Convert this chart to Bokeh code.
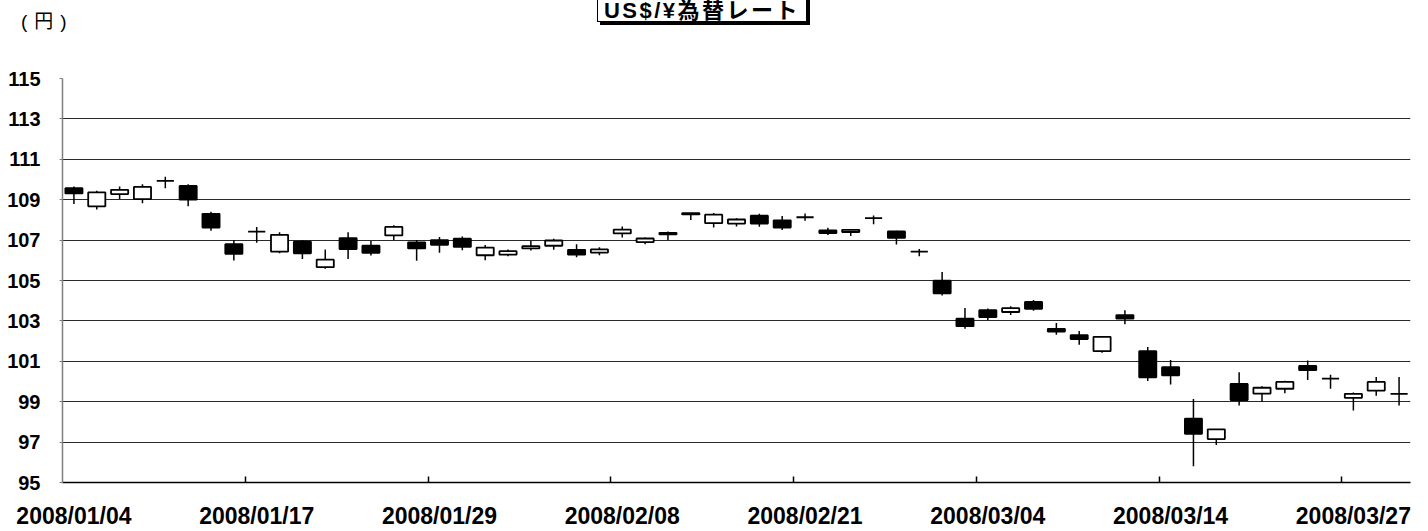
from bokeh.plotting import figure
from bokeh.models import Range1d, FixedTicker, ColumnDataSource, Div
from bokeh.layouts import column
from bokeh.embed import file_html
from bokeh.resources import INLINE

dates = [
    "2008/01/04", "2008/01/07", "2008/01/08", "2008/01/09", "2008/01/10", "2008/01/11",
    "2008/01/15", "2008/01/16", "2008/01/17", "2008/01/18", "2008/01/21", "2008/01/22",
    "2008/01/23", "2008/01/24", "2008/01/25", "2008/01/28", "2008/01/29", "2008/01/30",
    "2008/01/31", "2008/02/01", "2008/02/04", "2008/02/05", "2008/02/06", "2008/02/07",
    "2008/02/08", "2008/02/12", "2008/02/13", "2008/02/14", "2008/02/15", "2008/02/18",
    "2008/02/19", "2008/02/20", "2008/02/21", "2008/02/22", "2008/02/25", "2008/02/26",
    "2008/02/27", "2008/02/28", "2008/02/29", "2008/03/03", "2008/03/04", "2008/03/05",
    "2008/03/06", "2008/03/07", "2008/03/10", "2008/03/11", "2008/03/12", "2008/03/13",
    "2008/03/14", "2008/03/17", "2008/03/18", "2008/03/19", "2008/03/21", "2008/03/24",
    "2008/03/25", "2008/03/26", "2008/03/27", "2008/03/28", "2008/03/31",
]

opens = [
    109.57, 108.67, 109.28, 109.03, 109.93, 109.68, 108.30, 106.80, 107.42, 106.43,
    106.92, 105.66, 107.10, 106.72, 107.23, 106.89, 107.00, 107.07, 106.25, 106.28,
    106.59, 106.72, 106.52, 106.38, 107.33, 106.90, 107.36, 108.34, 107.84, 107.82,
    108.21, 107.98, 108.13, 107.48, 107.40, 108.09, 107.43, 106.43, 104.99, 103.11,
    103.53, 103.44, 103.94, 102.61, 102.29, 101.50, 103.29, 101.50, 100.71, 98.16,
    97.15, 99.88, 99.40, 99.64, 100.77, 100.14, 99.19, 99.55, 99.39,
]
highs = [
    109.65, 109.44, 109.65, 109.76, 110.14, 109.76, 108.40, 107.00, 107.65, 107.39,
    107.00, 106.53, 107.39, 106.95, 107.73, 107.00, 107.15, 107.18, 106.76, 106.53,
    106.97, 107.07, 106.80, 106.64, 107.67, 107.13, 107.43, 108.34, 108.34, 108.08,
    108.30, 108.19, 108.32, 107.61, 107.51, 108.22, 107.46, 106.56, 105.42, 103.64,
    103.61, 103.73, 104.03, 102.89, 102.50, 102.21, 103.53, 101.71, 101.06, 99.13,
    97.63, 100.46, 99.76, 100.04, 101.04, 100.33, 99.45, 100.22, 100.22,
]
lows = [
    108.79, 108.51, 109.03, 108.82, 109.57, 108.67, 107.46, 105.99, 106.87, 106.35,
    106.06, 105.58, 106.06, 106.24, 107.00, 105.98, 106.37, 106.50, 106.00, 106.20,
    106.48, 106.52, 106.15, 106.25, 107.13, 106.80, 107.00, 108.00, 107.62, 107.67,
    107.66, 107.50, 107.96, 107.25, 107.20, 107.79, 106.78, 106.20, 104.26, 102.61,
    103.05, 103.29, 103.50, 102.31, 101.82, 101.42, 102.84, 100.02, 99.85, 95.80,
    96.86, 98.81, 99.00, 99.42, 100.08, 99.64, 98.57, 99.29, 98.81,
]
closes = [
    109.31, 109.36, 109.49, 109.63, 109.93, 109.00, 107.62, 106.32, 107.42, 107.26,
    106.35, 106.03, 106.56, 106.37, 107.65, 106.59, 106.77, 106.66, 106.63, 106.45,
    106.70, 106.98, 106.28, 106.54, 107.52, 107.08, 107.28, 108.28, 108.26, 108.02,
    107.82, 107.62, 108.13, 107.35, 107.51, 108.09, 107.11, 106.43, 104.37, 102.74,
    103.19, 103.63, 103.60, 102.47, 102.10, 102.21, 103.11, 100.21, 100.31, 97.41,
    97.63, 99.08, 99.69, 99.98, 100.56, 100.14, 99.39, 99.98, 99.39,
]

y_ticks = list(range(95, 116, 2))
label_every = 8
title_text = "US$/¥為替レート"
unit_text = "(円)"

W = 1428
HEADER_H = 66

# ---------------- header: title box with shadow, unit ----------------
header_html = f"""
<div style="position:relative;width:{W}px;height:{HEADER_H}px;overflow:hidden;margin:0;padding:0;">
  <div style="position:absolute;left:21px;top:12px;font-family:'Liberation Sans','Noto Sans CJK JP',sans-serif;
       font-size:19px;line-height:20px;letter-spacing:7px;color:black;white-space:nowrap;">{unit_text}</div>
  <div style="position:absolute;left:597px;top:-10px;width:210px;height:32px;box-sizing:border-box;
       border:1.5px solid black;background:white;box-shadow:3px 3px 0 0 black;"></div>
  <div style="position:absolute;left:597px;top:0px;width:210px;text-align:center;
       font-family:'Liberation Sans','Noto Sans CJK JP',sans-serif;font-weight:bold;font-size:22px;
       line-height:22px;letter-spacing:2.5px;color:black;white-space:nowrap;">{title_text}</div>
</div>
"""
header = Div(text=header_html, width=W, height=HEADER_H, margin=(0, 0, 0, 0))

# ---------------- main chart ----------------
idx = list(range(len(dates)))
tops = [max(o, c) for o, c in zip(opens, closes)]
bottoms = [min(o, c) for o, c in zip(opens, closes)]
fills = ["black" if c < o else "white" for o, c in zip(opens, closes)]
src = ColumnDataSource(dict(x=idx, high=highs, low=lows, top=tops, bottom=bottoms, fill=fills))

p = figure(
    width=W, height=531 - HEADER_H,
    x_range=Range1d(-0.5, len(dates) - 0.5),
    y_range=Range1d(y_ticks[0], y_ticks[-1]),
    output_backend="svg", toolbar_location=None,
    min_border_left=62, min_border_right=18, min_border_top=78 - HEADER_H, min_border_bottom=41,
    margin=(0, 0, 0, 0),
)
p.outline_line_color = None
p.title.visible = False

p.segment(x0="x", y0="low", x1="x", y1="high", source=src, line_color="black", line_width=1.5)
p.vbar(x="x", width=0.75, top="top", bottom="bottom", source=src,
       fill_color="fill", line_color="black", line_width=1.8)

yt = FixedTicker(ticks=y_ticks)
p.yaxis.ticker = yt
p.ygrid.ticker = yt
p.ygrid.grid_line_color = "#2a2a2a"
p.ygrid.grid_line_width = 1
p.xgrid.visible = False
p.yaxis.axis_line_color = "#808080"
p.yaxis.axis_line_width = 1.5
p.yaxis.major_tick_in = 0
p.yaxis.major_tick_out = 3
p.yaxis.major_tick_line_color = "#808080"
p.yaxis.minor_tick_line_color = None
p.yaxis.major_label_text_font = "Liberation Sans"
p.yaxis.major_label_text_font_style = "bold"
p.yaxis.major_label_text_font_size = "20px"
p.yaxis.major_label_text_color = "black"
p.yaxis.major_label_standoff = 19

label_idx = list(range(0, len(dates), label_every))
minor = [i - 0.5 for i in label_idx[1:]]
p.xaxis.ticker = FixedTicker(ticks=label_idx, minor_ticks=minor)
p.xaxis.major_label_overrides = {i: dates[i] for i in label_idx}
p.xaxis.axis_line_color = "black"
p.xaxis.axis_line_width = 1.5
p.xaxis.major_tick_line_color = None
p.xaxis.minor_tick_line_color = "black"
p.xaxis.minor_tick_line_width = 1.5
p.xaxis.minor_tick_in = 6
p.xaxis.minor_tick_out = 0
p.xaxis.major_label_text_font = "Liberation Sans"
p.xaxis.major_label_text_font_style = "bold"
p.xaxis.major_label_text_font_size = "23px"
p.xaxis.major_label_text_color = "black"
p.xaxis.major_label_standoff = 14

layout = column(header, p, spacing=0, margin=(0, 0, 0, 0))
open("out.html", "w").write(file_html(layout, INLINE))
